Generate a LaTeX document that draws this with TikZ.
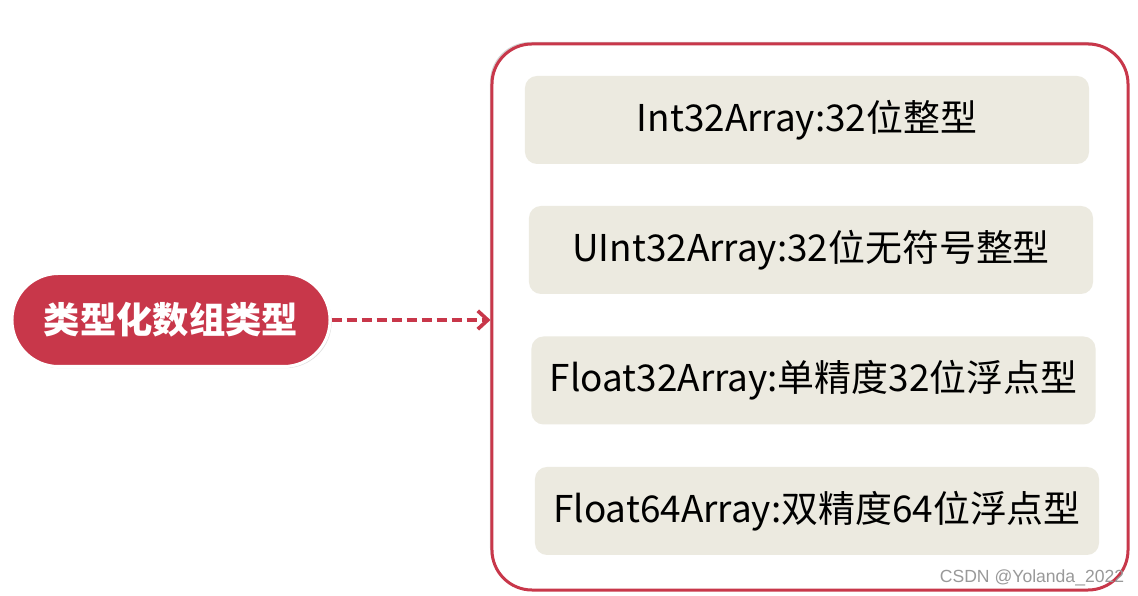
\documentclass[tikz,border=0pt]{standalone}
\usepackage{fontspec}
\newfontfamily\cjk{Noto Sans CJK SC}
\newfontfamily\wmfont{Liberation Sans}
\usetikzlibrary{arrows.meta,shadows}
\definecolor{typered}{HTML}{C8374A}
\definecolor{itemfill}{HTML}{ECEAE0}
\tikzset{
  typepill/.style={rounded corners=1.39cm, fill=typered, draw=white, line width=0.09cm,
    minimum width=9.54cm, minimum height=2.79cm, text=white,
    font=\cjk\bfseries\fontsize{31}{37}\selectfont,
    drop shadow={opacity=0.25, shadow xshift=0.05cm, shadow yshift=-0.05cm}},
  groupbox/.style={rounded corners=1.2cm, fill=white, draw=typered, line width=0.09cm,
    minimum width=19.08cm, minimum height=16.38cm,
    drop shadow={opacity=0.35, shadow xshift=-0.06cm, shadow yshift=0.06cm}},
  itembox/.style={rounded corners=0.36cm, fill=itemfill,
    minimum width=16.92cm, minimum height=2.64cm,
    font=\cjk\fontsize{31.5}{38}\selectfont},
}
\begin{document}
\begin{tikzpicture}[x=0.03cm, y=0.03cm]
    \useasboundingbox (0, 0) rectangle (1138, 596);
    \node[typepill] (kind) at (171, 276) {类型化数组类型};
    \node[groupbox] (group) at (810, 279) {};
    \node[itembox] (i32) at (807, 476) {Int32Array:32位整型};
    \node[itembox] (u32) at (811, 346) {UInt32Array:32位无符号整型};
    \node[itembox] (f32) at (813.5, 215.5) {Float32Array:单精度32位浮点型};
    \node[itembox] (f64) at (817, 85) {Float64Array:双精度64位浮点型};
    \draw[typered, line width=0.11cm, dash pattern=on 0.3cm off 0.15cm,
        -{Straight Barb[length=0.3cm, width=0.55cm]}] (kind.east) -- (kind.east -| group.west);
    \node[text=gray!80, font=\wmfont\fontsize{15}{18}\selectfont] (mark) at (1032, 18) {CSDN @Yolanda\_2022};
\end{tikzpicture}
\end{document}
